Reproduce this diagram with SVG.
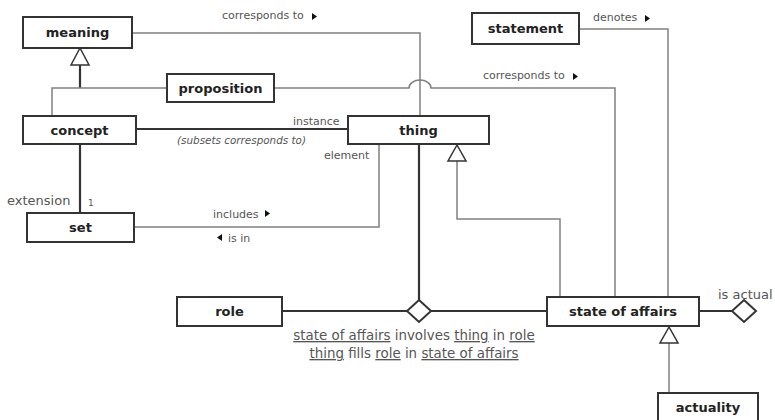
<svg xmlns="http://www.w3.org/2000/svg" width="775" height="420" viewBox="0 0 775 420">
<style>
.box{fill:#fff;stroke:#333;stroke-width:2}
.lbl{font-family:"DejaVu Sans",sans-serif;font-weight:bold;font-size:13px;fill:#222;text-anchor:middle}
.thin{fill:none;stroke:#808080;stroke-width:1.5}
.thick{fill:none;stroke:#333;stroke-width:2.2}
.gen{fill:#fff;stroke:#333;stroke-width:1.5}
.sm{font-family:"DejaVu Sans",sans-serif;font-size:11px;fill:#555}
.md{font-family:"DejaVu Sans",sans-serif;font-size:13px;fill:#555}
.arr{fill:#111}
.u{text-decoration:underline}
</style>
<rect width="775" height="420" fill="#fff"/>
<g id="connectors">
  <path class="thin" d="M132,33 H420 V116"/>
  <path class="thin" d="M274,88 H409 A11,8 0 0 1 431,88 H615 V297"/>
  <path class="thin" d="M579,29 H668 V297"/>
  <path class="thick" d="M80,65 V88"/>
  <path class="thin" d="M167,88 H52 V116"/>
  <polygon class="gen" points="80,48 71,65 89,65"/>
  <path class="thick" d="M136,129 H348"/>
  <path class="thick" d="M80,144 V213"/>
  <path class="thin" d="M134,227 H379 V144"/>
  <path class="thin" d="M457,161 V219 H560 V297"/>
  <polygon class="gen" points="457,145 448,161 466,161"/>
  <path class="thick" d="M419,144 V300"/>
  <path class="thick" d="M282,311 H408"/>
  <path class="thick" d="M431,311 H547"/>
  <polygon class="gen" points="419,300 431,311 419,322 407,311" style="stroke-width:2"/>
  <path class="thick" d="M699,311 H732"/>
  <polygon class="gen" points="744,300 756,311 744,322 732,311" style="stroke-width:2"/>
  <path class="thin" d="M669,343 V393"/>
  <polygon class="gen" points="669,327 660,343 678,343"/>
</g>
<g id="labels">
  <text class="sm" x="222" y="19">corresponds to</text>
  <polygon class="arr" points="312,13 317,16.5 312,20"/>
  <text class="sm" x="483" y="79">corresponds to</text>
  <polygon class="arr" points="573,73 578,76.5 573,80"/>
  <text class="sm" x="593" y="21">denotes</text>
  <polygon class="arr" points="645,15 650,18.5 645,22"/>
  <text class="sm" x="293" y="125">instance</text>
  <text class="sm" x="177" y="144" style="font-size:10.4px;font-style:italic">(subsets corresponds to)</text>
  <text class="sm" x="324" y="159">element</text>
  <text class="md" x="7" y="205">extension</text>
  <text class="sm" x="88" y="206" style="font-size:9px">1</text>
  <text class="sm" x="213" y="218">includes</text>
  <polygon class="arr" points="265,210 270,213.5 265,217"/>
  <polygon class="arr" points="222,234 217,237.5 222,241"/>
  <text class="sm" x="228" y="242">is in</text>
  <text class="md" x="718" y="299">is actual</text>
  <text class="sm" x="414" y="340" text-anchor="middle" style="font-size:13.4px"><tspan class="u">state of affairs</tspan> involves <tspan class="u">thing</tspan> in <tspan class="u">role</tspan></text>
  <text class="sm" x="414" y="358" text-anchor="middle" style="font-size:13.4px"><tspan class="u">thing</tspan> fills <tspan class="u">role</tspan> in <tspan class="u">state of affairs</tspan></text>
</g>
<g id="meaning"><rect class="box" x="23" y="17" width="109" height="31"/><text class="lbl" x="77.5" y="37">meaning</text></g>
<g id="proposition"><rect class="box" x="167" y="74" width="107" height="28"/><text class="lbl" x="220.5" y="93">proposition</text></g>
<g id="concept"><rect class="box" x="23" y="116" width="113" height="28"/><text class="lbl" x="79.5" y="135">concept</text></g>
<g id="thing"><rect class="box" x="348" y="116" width="141" height="28"/><text class="lbl" x="418.5" y="135">thing</text></g>
<g id="statement"><rect class="box" x="472" y="13" width="107" height="31"/><text class="lbl" x="525.5" y="33">statement</text></g>
<g id="set"><rect class="box" x="27" y="213" width="107" height="29"/><text class="lbl" x="80.5" y="232">set</text></g>
<g id="role"><rect class="box" x="177" y="297" width="105" height="29"/><text class="lbl" x="229.5" y="316">role</text></g>
<g id="state_of_affairs"><rect class="box" x="547" y="297" width="152" height="29"/><text class="lbl" x="623" y="316">state of affairs</text></g>
<g id="actuality"><rect class="box" x="658" y="393" width="100" height="30"/><text class="lbl" x="708" y="412">actuality</text></g>
</svg>
